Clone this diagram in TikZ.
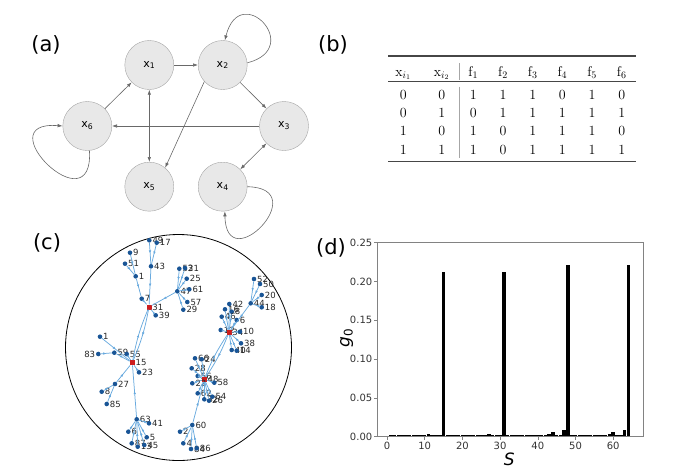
\documentclass[tikz,border=0pt]{standalone}
\usepackage{fontspec}
\setsansfont{DejaVu Sans}
\usetikzlibrary{arrows.meta,decorations.markings}
\definecolor{stategray}{RGB}{232,232,232}
\definecolor{stateline}{RGB}{165,165,165}
\definecolor{edgegray}{RGB}{105,105,105}
\definecolor{linkblue}{RGB}{105,170,222}
\definecolor{dotblue}{RGB}{25,85,150}
\definecolor{hubred}{RGB}{205,30,30}
\definecolor{axisgray}{RGB}{130,130,130}
\definecolor{rulegray}{RGB}{70,70,70}

\tikzset{
  state/.style={circle,draw=stateline,fill=stategray,minimum size=49pt,inner sep=0pt,font=\sffamily\fontsize{11}{13}\selectfont},
  edge/.style={draw=edgegray,line width=0.6pt,-{Latex[length=5pt,width=3.5pt]}},
  twoway/.style={draw=edgegray,line width=0.6pt,{Latex[length=5pt,width=3.5pt]}-{Latex[length=5pt,width=3.5pt]}},
  panel/.style={font=\sffamily\fontsize{21}{24}\selectfont},
  leaf/.style={circle,fill=dotblue,inner sep=0pt,minimum size=4.6pt},
  hub/.style={rectangle,fill=hubred,inner sep=0pt,minimum size=5pt},
  tlbl/.style={font=\sffamily\fontsize{8.5}{9}\selectfont,inner sep=0.5pt,text=black!85},
  flow/.style={linkblue,line width=0.75pt,postaction={decorate},
    decoration={markings,mark=at position 0.5 with {\arrow{Latex[length=3pt,width=2.6pt]}}}},
  cell/.style={font=\fontsize{14}{16}\selectfont,inner sep=0pt,anchor=base},
  tick/.style={font=\sffamily\fontsize{10}{12}\selectfont,text=black!80,inner sep=1pt},
}

\begin{document}
\begin{tikzpicture}[x=1pt,y=-1pt]
\useasboundingbox (0,0) rectangle (680,475);

\node[panel] (lblA) at (46,45) {(a)};
\node[panel] (lblB) at (333,45) {(b)};
\node[panel] (lblC) at (47,243) {(c)};
\node[panel] (lblD) at (331,248) {(d)};

% (a)
\node[state] (x1) at (149.3,65) {x\textsubscript{1}};
\node[state] (x2) at (222.7,65) {x\textsubscript{2}};
\node[state] (x6) at (87.3,126) {x\textsubscript{6}};
\node[state] (x3) at (284,126) {x\textsubscript{3}};
\node[state] (x5) at (149.3,186.7) {x\textsubscript{5}};
\node[state] (x4) at (222.7,186.7) {x\textsubscript{4}};

\draw[edge] (x1) -- (x2);
\draw[edge] (x2) -- (x3);
\draw[edge] (x2.222) -- (x5.50);
\draw[edge] (x3) -- (x6);
\draw[edge] (x6) -- (x1);
\draw[twoway] (x1) -- (x5);
\draw[twoway] (x3) -- (x4);
\draw[edge] (x2.5) .. controls (305,48) and (240,-20) .. (x2.85);
\draw[edge] (x6.-85) .. controls (94,228) and (-15,120) .. (x6.180);
\draw[edge] (x4.0) .. controls (315,188) and (226,280) .. (x4.-85);

% (b)
\draw[rulegray,line width=1.1pt] (388.3,56) -- (635.7,56);
\draw[rulegray,line width=0.7pt] (388.3,81.7) -- (635.7,81.7);
\draw[rulegray,line width=1.1pt] (388.3,161.7) -- (635.7,161.7);
\draw[gray!70,line width=0.8pt] (459.3,63) -- (459.3,80);
\draw[gray!70,line width=0.8pt] (459.3,86.7) -- (459.3,158.3);

\def\colx{{403.3,441.7,473.3,503,532.7,562.4,592.1,621.8}}
\foreach \h [count=\c] in {$\mathrm{x}_{i_1}$,$\mathrm{x}_{i_2}$,$\mathrm{f}_1$,$\mathrm{f}_2$,$\mathrm{f}_3$,$\mathrm{f}_4$,$\mathrm{f}_5$,$\mathrm{f}_6$}
  \node[cell] (head\c) at ({\colx[\c-1]},76) {\h};
\foreach \yy/\row [count=\r] in {99/{0,0,1,1,1,0,1,0},117.3/{0,1,0,1,1,1,1,1},135.7/{1,0,1,0,1,1,1,0},154/{1,1,1,0,1,1,1,1}}
  \foreach \v [count=\c] in \row
    \node[cell] (cell\r\c) at ({\colx[\c-1]},\yy) {\v};

% (c)
\draw[black,line width=0.8pt] (178.5,347.5) circle (113);

\node[leaf,label={[tlbl]right:49}] (t49) at (149.3,240.3) {};
\node[leaf,label={[tlbl]right:17}] (t17) at (156.7,242.7) {};
\node[leaf,label={[tlbl]right:9}] (t9) at (130,252.7) {};
\node[leaf,label={[tlbl]right:51}] (t51) at (125,263.7) {};
\node[leaf,label={[tlbl]right:43}] (t43) at (151,266.3) {};
\node[leaf,label={[tlbl]right:1}] (t1a) at (135.7,276.3) {};
\node[leaf,label={[tlbl]right:7}] (t7) at (141.7,298.7) {};
\node[hub,label={[tlbl]right:31}] (t31) at (149,307) {};
\node[leaf,label={[tlbl]right:39}] (t39) at (155.7,315.3) {};
\node[leaf,label={[tlbl]right:53}] (t53) at (179.3,268.7) {};
\node[leaf,label={[tlbl]right:21}] (t21) at (185,268) {};
\node[leaf,label={[tlbl]right:25}] (t25) at (186.7,278.7) {};
\node[leaf,label={[tlbl]right:47}] (t47) at (177.3,291.3) {};
\node[leaf,label={[tlbl]right:61}] (t61) at (189.3,289.3) {};
\node[leaf,label={[tlbl]right:57}] (t57) at (187.3,302) {};
\node[leaf,label={[tlbl]right:29}] (t29) at (183.3,309.7) {};

\node[leaf,label={[tlbl]right:1}] (t1b) at (100,336.7) {};
\node[leaf,label={[tlbl]left:83}] (t83) at (98.3,354) {};
\node[leaf,label={[tlbl]right:59}] (t59) at (114.3,352.7) {};
\node[leaf,label={[tlbl]right:55}] (t55) at (126.7,354) {};
\node[hub,label={[tlbl]right:15}] (t15) at (132.3,362.7) {};
\node[leaf,label={[tlbl]right:23}] (t23) at (139,372.3) {};
\node[leaf,label={[tlbl]right:27}] (t27) at (115,384) {};
\node[leaf,label={[tlbl]right:8}] (t8a) at (101.7,391.7) {};
\node[leaf,label={[tlbl]right:85}] (t85) at (106.7,404) {};
\node[leaf,label={[tlbl]right:63}] (t63) at (136.7,419.3) {};
\node[leaf,label={[tlbl]right:41}] (t41) at (149,423.3) {};
\node[leaf,label={[tlbl]right:6}] (t6a) at (128.3,431.7) {};
\node[leaf,label={[tlbl]right:5}] (t5) at (146.7,437.3) {};
\node[leaf,label={[tlbl]right:87}] (t87) at (131.7,443.3) {};
\node[leaf,label={[tlbl]right:13}] (t13) at (137.7,446.7) {};
\node[leaf,label={[tlbl]right:45}] (t45) at (144.3,445) {};

\node[leaf,label={[tlbl]right:52}] (t52) at (254,279) {};
\node[leaf,label={[tlbl]right:50}] (t50) at (260,284) {};
\node[leaf,label={[tlbl]right:20}] (t20) at (261.7,295) {};
\node[leaf,label={[tlbl]right:44}] (t44) at (250.7,303.3) {};
\node[leaf,label={[tlbl]right:18}] (t18) at (261.7,307.3) {};
\node[leaf,label={[tlbl]right:42}] (t42) at (229.3,304) {};
\node[leaf,label={[tlbl]right:16}] (t16) at (225,309.3) {};
\node[leaf,label={[tlbl]right:8}] (t8b) at (231.7,311.7) {};
\node[leaf,label={[tlbl]right:46}] (t46) at (221.7,316.7) {};
\node[leaf,label={[tlbl]right:6}] (t6b) at (236.7,320) {};
\node[leaf,label={[tlbl]right:12}] (t12) at (220.7,330) {};
\node[hub,label={[tlbl]right:34}] (t34) at (229,332.3) {};
\node[leaf,label={[tlbl]right:10}] (t10) at (240,331.7) {};
\node[leaf,label={[tlbl]right:38}] (t38) at (241,343.3) {};
\node[leaf,label={[tlbl]right:40}] (t40) at (231.7,350) {};
\node[leaf,label={[tlbl]right:14}] (t14) at (236.7,350.7) {};

\node[leaf,label={[tlbl]right:66}] (t66) at (195,358.3) {};
\node[leaf,label={[tlbl]right:24}] (t24) at (201.7,359.3) {};
\node[leaf,label={[tlbl]right:28}] (t28) at (191.7,368.3) {};
\node[leaf,label={[tlbl]right:56}] (t56) at (197.7,376) {};
\node[hub,label={[tlbl]right:48}] (t48) at (204.3,379.3) {};
\node[leaf,label={[tlbl]right:22}] (t22) at (192.3,383.3) {};
\node[leaf,label={[tlbl]right:58}] (t58) at (214.3,382.7) {};
\node[leaf,label={[tlbl]right:62}] (t62) at (197.7,393.3) {};
\node[leaf,label={[tlbl]right:32}] (t32) at (204.3,399.3) {};
\node[leaf,label={[tlbl]right:26}] (t26) at (209,400.7) {};
\node[leaf,label={[tlbl]right:54}] (t54) at (212.3,396.7) {};
\node[leaf,label={[tlbl]right:60}] (t60) at (192.3,425) {};
\node[leaf,label={[tlbl]right:2}] (t2) at (180,431.7) {};
\node[leaf,label={[tlbl]right:4}] (t4) at (183.3,443.3) {};
\node[leaf,label={[tlbl]right:84}] (t84) at (191,449) {};
\node[leaf,label={[tlbl]right:86}] (t86) at (196.7,448.3) {};

\foreach \a/\b in {t49/t43,t17/t43,t43/t31,t9/t1a,t51/t1a,t1a/t7,t7/t31,
    t53/t47,t21/t47,t25/t47,t61/t47,t57/t47,t29/t47,t47/t31,t39/t31,
    t1b/t15,t83/t59,t59/t15,t55/t15,t23/t15,t8a/t27,t85/t27,t27/t15,t63/t15,
    t41/t63,t6a/t63,t5/t63,t87/t63,t13/t63,t45/t63,
    t52/t44,t50/t44,t20/t44,t18/t44,t44/t34,t42/t34,t16/t34,t8b/t34,t46/t34,
    t6b/t34,t12/t34,t10/t34,t38/t34,t40/t34,t14/t34,
    t66/t48,t24/t48,t28/t48,t56/t48,t22/t48,t58/t48,t62/t48,t32/t48,t26/t48,
    t54/t48,t60/t48,t2/t60,t4/t60,t84/t60,t86/t60}
  \draw[flow] (\a) -- (\b);
\draw[flow] (t31) to[bend left=6] (t15);
\draw[flow] (t15) to[bend left=6] (t31);
\draw[flow] (t34) to[bend left=6] (t48);
\draw[flow] (t48) to[bend left=6] (t34);

% (d)
\begin{scope}[shift={(387,436.7)},x=3.77pt,y=776pt]
\foreach \s in {1,...,64}
  \fill (\s-0.47,0) rectangle (\s+0.47,0.0022);
\foreach \s/\g in {11/0.004,27/0.004,43/0.004,44/0.006,47/0.009,59/0.004,60/0.006,63/0.009,
    15/0.2125,31/0.2125,48/0.2215,64/0.2215}
  \fill (\s-0.47,0) rectangle (\s+0.47,\g);
\draw[axisgray,line width=0.6pt] (-2.57,0) rectangle (68,0.25);
\foreach \v [count=\i] in {0.00,0.05,0.10,0.15,0.20,0.25} {
  \draw[axisgray,line width=0.6pt] (-2.57,\v) -- ++(-0.95,0);
  \node[tick,anchor=east] (yt\i) at (-3.6,\v) {\v};
}
\foreach \s in {0,10,...,60} {
  \draw[axisgray,line width=0.6pt] (\s,0) -- ++(0,-0.0045);
  \node[tick,anchor=north] (xt\s) at (\s,-0.0055) {\s};
}
\end{scope}
\node[font=\sffamily\itshape\fontsize{17}{20}\selectfont,rotate=90] (ylab) at (346.7,338.3) {g{\upshape\textsubscript{0}}};
\node[font=\sffamily\itshape\fontsize{17}{20}\selectfont] (xlab) at (509.3,459) {S};
\end{tikzpicture}
\end{document}
